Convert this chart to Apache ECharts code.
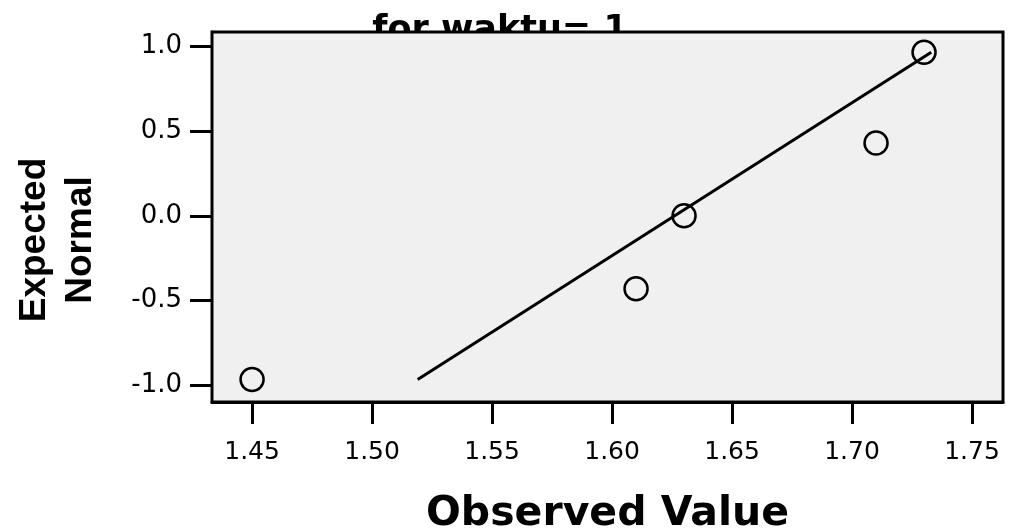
<!DOCTYPE html>
<html>
<head>
<meta charset="utf-8">
<script src="https://cdn.jsdelivr.net/npm/echarts@6/dist/echarts.min.js"></script>
<style>
  html, body { margin: 0; padding: 0; background: #ffffff; }
  #chart { width: 1017px; height: 531px; }
</style>
</head>
<body>
<div id="chart"></div>
<script>
// observed values and their expected normal scores
const observed = [1.45, 1.61, 1.63, 1.71, 1.73];
const expected = [-0.967, -0.431, 0.0, 0.431, 0.967];
// reference line end points
const lineX = [1.519, 1.733];
const lineY = [-0.967, 0.967];
const xTicks = [1.45, 1.5, 1.55, 1.6, 1.65, 1.7, 1.75];
const yTicks = [-1.0, -0.5, 0.0, 0.5, 1.0];

var dom = document.getElementById("chart");
var chart = echarts.init(dom, null, { renderer: "canvas" });

var option = {
  backgroundColor: "#ffffff",
  animation: false,
  title: {
    text: "for waktu= 1",
    left: 495,
    textAlign: "center",
    top: 8,
    z: 0,
    textStyle: {
      fontFamily: "DejaVu Sans",
      fontWeight: "bold",
      fontSize: 35,
      color: "#000",
    },
  },
  grid: {
    show: true,
    left: 212,
    top: 32,
    right: 14,
    bottom: 129,
    outerBoundsMode: "none",
    containLabel: false,
    backgroundColor: "#f0f0f0",
    borderColor: "#000",
    borderWidth: 3,
    z: 2,
  },
  xAxis: {
    type: "value",
    min: 1.4333,
    max: 1.7629,
    name: "Observed Value",
    nameLocation: "middle",
    nameGap: 92,
    nameTextStyle: {
      fontFamily: "DejaVu Sans",
      fontWeight: "bold",
      fontSize: 41,
      color: "#000",
    },
    axisLine: { show: true, onZero: false, lineStyle: { color: "#000", width: 3 } },
    axisTick: {
      show: true,
      length: 22,
      customValues: xTicks,
      lineStyle: { color: "#000", width: 3 },
    },
    axisLabel: {
      customValues: xTicks,
      margin: 38,
      formatter: (v) => v.toFixed(2),
      fontFamily: "DejaVu Sans",
      fontSize: 25,
      color: "#000",
    },
    splitLine: { show: false },
  },
  yAxis: {
    type: "value",
    min: -1.1006,
    max: 1.087,
    name: "Expected\nNormal",
    nameLocation: "middle",
    nameGap: 108,
    nameTextStyle: {
      fontFamily: "Liberation Sans",
      fontWeight: "bold",
      fontSize: 37,
      lineHeight: 46,
      padding: [0, 46, 0, 0],
      color: "#000",
    },
    axisLine: { show: true, onZero: false, lineStyle: { color: "#000", width: 3 } },
    axisTick: {
      show: true,
      length: 22,
      customValues: yTicks,
      lineStyle: { color: "#000", width: 3 },
    },
    axisLabel: {
      customValues: yTicks,
      margin: 30,
      formatter: (v) => v.toFixed(1),
      fontFamily: "DejaVu Sans",
      fontSize: 26,
      color: "#000",
    },
    splitLine: { show: false },
  },
  series: [
    {
      type: "line",
      data: lineX.map((x, i) => [x, lineY[i]]),
      showSymbol: false,
      lineStyle: { color: "#000", width: 3 },
      z: 3,
    },
    {
      type: "scatter",
      data: observed.map((x, i) => [x, expected[i]]),
      symbol: "circle",
      symbolSize: 23,
      itemStyle: {
        color: "rgba(0,0,0,0)",
        borderColor: "#000",
        borderWidth: 2.5,
        opacity: 1,
      },
      z: 4,
    },
  ],
};
chart.setOption(option);
</script>
</body>
</html>
